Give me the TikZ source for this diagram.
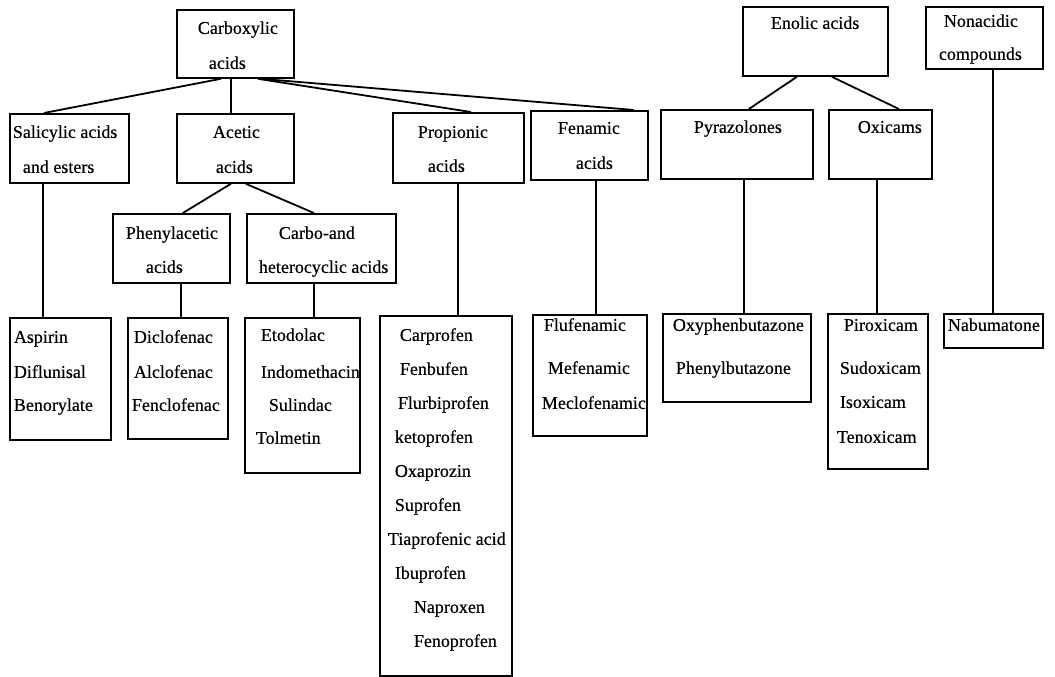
\documentclass[tikz,border=0pt]{standalone}
\usepackage{fontspec}
\setmainfont{Liberation Serif}[FakeBold=0.5]
\usepackage{tikz}
\tikzset{
    x=1pt, y=-1pt, % one unit is one pixel of the layout, y grows downwards
    class/.style={draw, inner sep=0pt, anchor=north west}, % every box of the tree
}
% box of given width, height and first baseline, text hung from its top
\newcommand{\cellbox}[4]{\parbox[c][#2pt][t]{#1pt}{\raggedright\hyphenpenalty=10000\exhyphenpenalty=10000\rule{0pt}{#3pt}#4}}
\newcommand{\ind}[1]{\hspace*{#1pt}}

\begin{document}
\begin{tikzpicture}[line width=1.8pt, font=\fontsize{18}{34}\selectfont]
    \useasboundingbox (0,0) rectangle (1055,677);
    % top level
    \node[class] (carboxylic) at (176,9) {\cellbox{117}{68}{24}{\ind{21}Carboxylic\\[1pt]\ind{32}acids}};
    \node[class] (enolic) at (742,6) {\cellbox{145}{69}{22}{\ind{28}Enolic acids}};
    \node[class] (nonacidic) at (925,6) {\cellbox{117}{62}{20}{\ind{18}Nonacidic\\[-1pt]\ind{13}compounds}};
    % second level
    \node[class] (salicylic) at (9,113) {\cellbox{119}{69}{24}{\ind{3}Salicylic acids\\[1pt]\ind{13}and esters}};
    \node[class] (acetic) at (176,113) {\cellbox{117}{69}{24}{\ind{36}Acetic\\[1pt]\ind{39}acids}};
    \node[class] (propionic) at (392,112) {\cellbox{131}{70}{25}{\ind{25}Propionic\\\ind{35}acids}};
    \node[class] (fenamic) at (530,110) {\cellbox{117}{69}{23}{\ind{27}Fenamic\\[1pt]\ind{45}acids}};
    \node[class] (pyrazolones) at (660,109) {\cellbox{152}{69}{23}{\ind{33}Pyrazolones}};
    \node[class] (oxicams) at (828,109) {\cellbox{103}{69}{23}{\ind{29}Oxicams}};
    % acetic subgroups
    \node[class] (phenylacetic) at (112,213) {\cellbox{117}{69}{25}{\ind{13}Phenylacetic\\\ind{33}acids}};
    \node[class] (heterocyclic) at (246,213) {\cellbox{149}{69}{25}{\ind{32}Carbo-and\\\ind{12}heterocyclic acids}};
    % drug lists
    \node[class] (aspirin) at (9,317) {\cellbox{101}{122}{25}{\ind{4}Aspirin\\[1pt]\ind{4}Diflunisal\\[-1pt]\ind{4}Benorylate}};
    \node[class] (diclofenac) at (127,317) {\cellbox{100}{121}{25}{\ind{6}Diclofenac\\[1pt]\ind{6}Alclofenac\\[-1pt]\ind{4}Fenclofenac}};
    \node[class] (etodolac) at (244,317) {\cellbox{115}{155}{23}{\ind{16}Etodolac\\[3pt]\ind{16}Indomethacin\\[-1pt]\ind{24}Sulindac\\[-1pt]\ind{11}Tolmetin}};
    \node[class] (carprofen) at (379,315) {\cellbox{132}{360}{25}{\ind{20}Carprofen\\\ind{20}Fenbufen\\\ind{18}Flurbiprofen\\\ind{15}ketoprofen\\\ind{15}Oxaprozin\\\ind{15}Suprofen\\\ind{8}Tiaprofenic acid\\\ind{15}Ibuprofen\\\ind{34}Naproxen\\\ind{34}Fenoprofen}};
    \node[class] (flufenamic) at (532,314) {\cellbox{114}{121}{16}{\ind{11}Flufenamic\\[9pt]\ind{15}Mefenamic\\[1pt]\ind{9}Meclofenamic}};
    \node[class] (oxyphen) at (662,313) {\cellbox{148}{88}{17}{\ind{10}Oxyphenbutazone\\[9pt]\ind{13}Phenylbutazone}};
    \node[class] (piroxicam) at (827,313) {\cellbox{100}{155}{17}{\ind{16}Piroxicam\\[9pt]\ind{12}Sudoxicam\\\ind{12}Isoxicam\\[1pt]\ind{9}Tenoxicam}};
    \node[class] (nabumatone) at (943,313) {\cellbox{99}{34}{17}{\ind{4}Nabumatone}};

    % branches
    \draw ([xshift=-14.5pt]carboxylic.south) -- ([xshift=-25.5pt]salicylic.north);
    \draw ([xshift=-4.5pt]carboxylic.south) -- ([xshift=-4.5pt]acetic.north);
    \draw ([xshift=22.5pt]carboxylic.south) -- ([xshift=12.5pt]propionic.north);
    \draw ([xshift=25.5pt]carboxylic.south) -- ([xshift=44.5pt]fenamic.north);
    \draw ([xshift=-4.5pt]acetic.south) -- ([xshift=11.5pt]phenylacetic.north);
    \draw ([xshift=10.5pt]acetic.south) -- ([xshift=-7.5pt]heterocyclic.north);
    \draw ([xshift=-18.5pt]enolic.south) -- ([xshift=12pt]pyrazolones.north);
    \draw ([xshift=16.5pt]enolic.south) -- ([xshift=18.5pt]oxicams.north);
    % stems down to the drug lists
    \draw ([xshift=-26.5pt]salicylic.south) -- ([xshift=-26.5pt]salicylic.south |- aspirin.north);
    \draw ([xshift=9.5pt]phenylacetic.south) -- ([xshift=9.5pt]phenylacetic.south |- diclofenac.north);
    \draw ([xshift=-7.5pt]heterocyclic.south) -- ([xshift=-7.5pt]heterocyclic.south |- etodolac.north);
    \draw ([xshift=-0.5pt]propionic.south) -- ([xshift=-0.5pt]propionic.south |- carprofen.north);
    \draw ([xshift=6.5pt]fenamic.south) -- ([xshift=6.5pt]fenamic.south |- flufenamic.north);
    \draw ([xshift=7pt]pyrazolones.south) -- ([xshift=7pt]pyrazolones.south |- oxyphen.north);
    \draw ([xshift=-3.5pt]oxicams.south) -- ([xshift=-3.5pt]oxicams.south |- piroxicam.north);
    \draw ([xshift=8.5pt]nonacidic.south) -- ([xshift=8.5pt]nonacidic.south |- nabumatone.north);
\end{tikzpicture}
\end{document}
